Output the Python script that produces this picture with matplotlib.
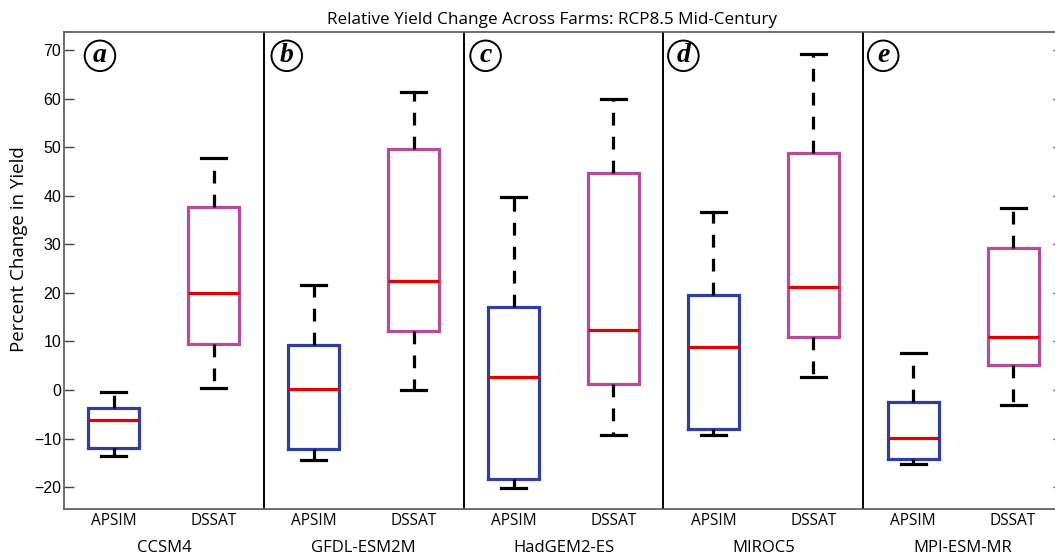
import matplotlib
matplotlib.use("Agg")
import matplotlib.pyplot as plt

# Climate models and crop models
gcms = ["CCSM4", "GFDL-ESM2M", "HadGEM2-ES", "MIROC5", "MPI-ESM-MR"]
crop_models = ["APSIM", "DSSAT"]
panel_tags = ["a", "b", "c", "d", "e"]

# Box summaries (percent change in yield): lower whisker, Q1, median, Q3, upper whisker
apsim_whislo = [-13.6, -14.4, -20.2, -9.3, -15.2]
apsim_q1 = [-11.9, -12.2, -18.3, -8.1, -14.3]
apsim_med = [-6.2, 0.2, 2.6, 8.9, -9.8]
apsim_q3 = [-3.8, 9.3, 17.0, 19.6, -2.5]
apsim_whishi = [-0.4, 21.6, 39.7, 36.6, 7.7]

dssat_whislo = [0.4, -0.1, -9.2, 2.7, -3.1]
dssat_q1 = [9.5, 12.1, 1.2, 11.0, 5.1]
dssat_med = [20.0, 22.4, 12.3, 21.2, 11.0]
dssat_q3 = [37.7, 49.6, 44.7, 48.8, 29.2]
dssat_whishi = [47.7, 61.3, 60.0, 69.1, 37.4]

yticks = [-20, -10, 0, 10, 20, 30, 40, 50, 60, 70]

APSIM_COLOR = "#2f3f9c"
DSSAT_COLOR = "#b64c98"
MEDIAN_COLOR = "#e00000"

fig = plt.figure(figsize=(10.55, 5.56), dpi=100)
ax = fig.add_axes([64 / 1055, 47 / 556, 999 / 1055, 477 / 556])

stats, colors = [], []
for i in range(len(gcms)):
    stats.append(dict(med=apsim_med[i], q1=apsim_q1[i], q3=apsim_q3[i],
                      whislo=apsim_whislo[i], whishi=apsim_whishi[i], fliers=[]))
    colors.append(APSIM_COLOR)
    stats.append(dict(med=dssat_med[i], q1=dssat_q1[i], q3=dssat_q3[i],
                      whislo=dssat_whislo[i], whishi=dssat_whishi[i], fliers=[]))
    colors.append(DSSAT_COLOR)

positions = list(range(1, len(stats) + 1))
art = ax.bxp(stats, positions=positions, widths=0.51, capwidths=0.25,
             showfliers=False,
             boxprops=dict(linewidth=2.3),
             medianprops=dict(color=MEDIAN_COLOR, linewidth=2.3, solid_capstyle="butt"),
             whiskerprops=dict(color="black", linewidth=2.3, linestyle=(0, (4.0, 3.5))),
             capprops=dict(color="black", linewidth=2.3))
for box, c in zip(art["boxes"], colors):
    box.set_color(c)
    box.set_solid_joinstyle("miter")

# Panel separators
for k in range(1, len(gcms)):
    ax.axvline(2 * k + 0.5, color="black", linewidth=1.4)

ax.set_xlim(0.5, 10.5)
ax.set_ylim(-24.5, 73.7)
ax.set_yticks(yticks)
ax.set_yticklabels([str(t).replace("-", "\u2212") for t in yticks],
                   fontsize=11.5, family="Liberation Sans")
ax.tick_params(axis="y", direction="in", length=7, width=1.0, right=True,
               pad=2, color="#444444")
ax.set_xticks(positions)
ax.set_xticklabels(crop_models * len(gcms), fontsize=11.2, family="Open Sans")
ax.tick_params(axis="x", length=0, pad=3)
for side in ["left", "bottom", "top"]:
    ax.spines[side].set_color("#555555")
    ax.spines[side].set_linewidth(1.2)
ax.spines["right"].set_visible(False)

ax.set_ylabel("Percent Change in Yield", fontsize=13.5, family="Open Sans")
ax.yaxis.set_label_coords(-0.036, 0.545)

# GCM names under each pair of boxes
for i, name in enumerate(gcms):
    ax.text(2 * i + 1.5, -0.066, name, transform=ax.get_xaxis_transform(),
            ha="center", va="top", fontsize=12, family="Open Sans")

# Circled panel tags
tag_x = [0.86, 2.73, 4.72, 6.70, 8.70]
for x, tag in zip(tag_x, panel_tags):
    ax.text(x, 68.8, tag, ha="center", va="center", fontsize=20,
            family="Liberation Serif", style="italic", weight="bold",
            bbox=dict(boxstyle="circle,pad=0.1", fc="white", ec="black", lw=1.4))

fig.text(552 / 1055, 1 - 20 / 556, "Relative Yield Change Across Farms: RCP8.5 Mid-Century",
         ha="center", va="center", fontsize=12.3, family="Open Sans")

fig.savefig("out.png", dpi=100, facecolor="white")
